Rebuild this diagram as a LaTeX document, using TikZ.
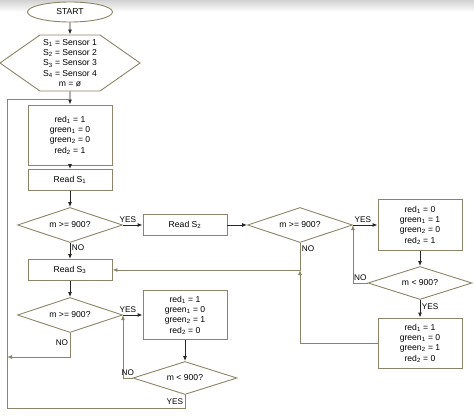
\documentclass[tikz,border=0pt]{standalone}
\usepackage{fontspec}
\setmainfont{Liberation Sans}
\usetikzlibrary{arrows.meta,positioning,shapes.geometric,shapes.symbols}
\definecolor{chartline}{RGB}{140,132,104}
\tikzset{%
  >={Latex[width=4pt,length=5pt]},
  % Specifications for style of nodes:
       base/.style = {draw=chartline, line width=0.9pt, fill=white, text centered, align=center,
                      font=\fontsize{8.6}{10.3}\selectfont, inner sep=1pt},
   terminal/.style = {base, ellipse, minimum width=85pt, minimum height=20pt},
      setup/.style = {base, signal, signal to=west and east,
                      signal pointer angle=70, minimum width=140pt, minimum height=56pt},
    process/.style = {base, rectangle, minimum width=84pt, minimum height=21pt},
   decision/.style = {base, diamond, aspect=3, inner sep=0pt,
                      minimum width=105pt, minimum height=35pt},
       link/.style = {draw=black!85, line width=0.9pt, ->},
      route/.style = {draw=chartline, line width=0.9pt},
     answer/.style = {font=\fontsize{8.2}{9}\selectfont, inner sep=1.5pt},
}
\begin{document}
\begin{tikzpicture}[x=1pt, y=-1pt, node distance=45pt]
  \useasboundingbox (0,0) rectangle (474,417);
  \shade[top color=gray!35, bottom color=white] (0,0) rectangle (474,12);
  % Specification of nodes (position, etc.)
  \node (start)   [terminal] at (70,12)                     {START};
  \node (setup)   [setup, below of=start, node distance=51pt]
        {S\textsubscript{1} = Sensor 1\\S\textsubscript{2} = Sensor 2\\S\textsubscript{3} = Sensor 3\\S\textsubscript{4} = Sensor 4\\m = ø};
  \node (init)    [process, below of=setup, node distance=72pt, minimum height=60pt]
        {red\textsubscript{1} = 1\\green\textsubscript{1} = 0\\green\textsubscript{2} = 0\\red\textsubscript{2} = 1};
  \node (read1)   [process, below of=init]                  {Read S\textsubscript{1}};
  \node (check1)  [decision, below of=read1]                {m >= 900?};
  \node (read3)   [process, below of=check1]                {Read S\textsubscript{3}};
  \node (check3)  [decision, below of=read3]                {m >= 900?};
  \node (read2)   [process, right of=check1, node distance=115pt] {Read S\textsubscript{2}};
  \node (check2)  [decision, right of=read2, node distance=115pt] {m >= 900?};
  \node (setA)    [process, right of=check2, node distance=120pt, minimum height=51pt]
        {red\textsubscript{1} = 0\\green\textsubscript{1} = 1\\green\textsubscript{2} = 0\\red\textsubscript{2} = 1};
  \node (check2b) [decision, below of=setA, node distance=58pt, minimum width=104pt, minimum height=33pt]
        {m < 900?};
  \node (setB)    [process, below of=check2b, node distance=60pt, minimum height=50pt]
        {red\textsubscript{1} = 1\\green\textsubscript{1} = 0\\green\textsubscript{2} = 1\\red\textsubscript{2} = 0};
  \node (setC)    [process, right of=check3, node distance=115pt, minimum height=49pt]
        {red\textsubscript{1} = 1\\green\textsubscript{1} = 0\\green\textsubscript{2} = 1\\red\textsubscript{2} = 0};
  \node (check3b) [decision, below of=setC, node distance=63pt, minimum width=104pt, minimum height=33pt]
        {m < 900?};
  % helper points for the long routes
  \coordinate [above=5pt of init.north] (join);
  \coordinate (loopB) at (7,408);
  \coordinate (backNo) at (7,357);
  \coordinate (meet) at (check2.south |- read3.east);
  % Specification of lines between nodes specified above
  \draw[link]  (start) -- (setup);
  \draw[link]  (setup) -- (init);
  \draw[link]  (init) -- (read1);
  \draw[link]  (read1) -- (check1);
  \draw[link]  (check1) -- node[answer, right, pos=0.3] {NO} (read3);
  \draw[link]  (read3) -- (check3);
  \draw[link]  (check1) -- node[answer, above, pos=0.25] {YES} (read2);
  \draw[link]  (read2) -- (check2);
  \draw[link]  (check2) -- node[answer, above, pos=0.4] {YES} (setA);
  \draw[route,->] (check2.south) |- node[answer, right, pos=0.1] {NO} (read3.east);
  \draw[route,->] (setB.west) -| (meet);
  \draw[link]  (setA) -- (check2b);
  \draw[route,->] (check2b.west) -| node[answer, above, pos=0.25] {NO} (check2.east);
  \draw[link]  (check2b) -- node[answer, right, pos=0.4] {YES} (setB);
  \draw[link]  (check3) -- node[answer, above, pos=0.25] {YES} (setC);
  \draw[link]  (setC) -- (check3b);
  \draw[route,->] (check3b.west) -| node[answer, above, pos=0.25] {NO} (check3.east);
  \draw[route,->] (check3.south) |- node[answer, left, pos=0.2] {NO} (backNo);
  \draw[route] (check3b.south) |- node[answer, left, pos=0.25] {YES} (loopB) |- (join);
\end{tikzpicture}
\end{document}
